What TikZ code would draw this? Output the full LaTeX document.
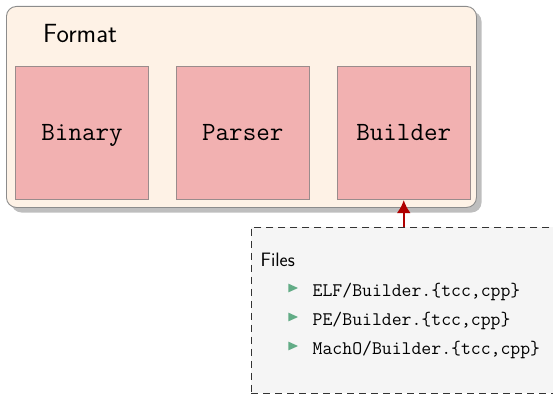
\documentclass[tikz,border=0pt]{standalone}
\usetikzlibrary{arrows.meta}
\definecolor{fmtfill}{HTML}{FEF2E6}
\definecolor{fmtline}{HTML}{8C8C8C}
\definecolor{shadowgray}{HTML}{BEBEBE}
\definecolor{partfill}{HTML}{F2B1B1}
\definecolor{partline}{HTML}{9A8C8C}
\definecolor{notefill}{HTML}{F5F5F5}
\definecolor{noteline}{HTML}{333333}
\definecolor{linkred}{HTML}{B00000}
\definecolor{bulletgreen}{HTML}{62AC86}
\tikzset{
  fmtbox/.style={draw=fmtline, line width=0.9pt, fill=fmtfill, rounded corners=10pt,
    anchor=north west, minimum width=470pt, minimum height=201pt, inner sep=0pt},
  partbox/.style={draw=partline, line width=0.8pt, fill=partfill, anchor=north west,
    minimum width=133.3pt, minimum height=133.3pt, inner sep=0pt,
    text height=15pt, text depth=0pt, font=\ttfamily\fontsize{26.3}{30}\selectfont},
  notebox/.style={draw=noteline, dash pattern=on 7pt off 5pt, line width=0.9pt,
    fill=notefill, anchor=north west, minimum width=420pt, minimum height=166pt, inner sep=0pt},
  titletext/.style={anchor=base west, inner sep=0pt, font=\sffamily\fontsize{26.3}{30}\selectfont},
  headtext/.style={anchor=base west, inner sep=0pt, font=\sffamily\fontsize{19.4}{22}\selectfont},
  itemtext/.style={anchor=base west, inner sep=0pt, font=\ttfamily\fontsize{19.2}{22}\selectfont},
  bullet/.style={fill=bulletgreen},
  link/.style={draw=linkred, line width=2.4pt, -{Latex[length=13pt,width=14pt]}},
}
\begin{document}
\begin{tikzpicture}[x=1pt,y=-1pt]
\useasboundingbox (0,0) rectangle (553,393);
\clip (0,0) rectangle (553,393);
% drop shadow of the container
\fill[shadowgray, rounded corners=10pt] (11.5,11.5) rectangle (481.5,212.5);
% container
\node[fmtbox] (format) at (6,6) {};
\node[titletext] (title) at (43,43) {Format};
% components
\node[partbox] (binary) at (15,66) {Binary};
\node[partbox] (parser) at (175.7,66) {Parser};
\node[partbox] (builder) at (336.7,66) {Builder};
% note with the source files, running past the right edge
\node[notebox] (files) at (251,226.5) {};
\node[headtext] (filehead) at (260.5,266) {Files};
\node[itemtext] (elf) at (312.5,296) {ELF/Builder.\{tcc,cpp\}};
\node[itemtext] (pe) at (312.5,325) {PE/Builder.\{tcc,cpp\}};
\node[itemtext] (macho) at (312.5,354) {MachO/Builder.\{tcc,cpp\}};
\foreach \y in {288,317,346}
  \fill[bullet] (288.3,\y-4.4) -- (298,\y) -- (288.3,\y+4.4) -- cycle;
% link from the note up to the builder
\draw[link] (builder.south |- files.north) -- (builder.south);
\end{tikzpicture}
\end{document}
